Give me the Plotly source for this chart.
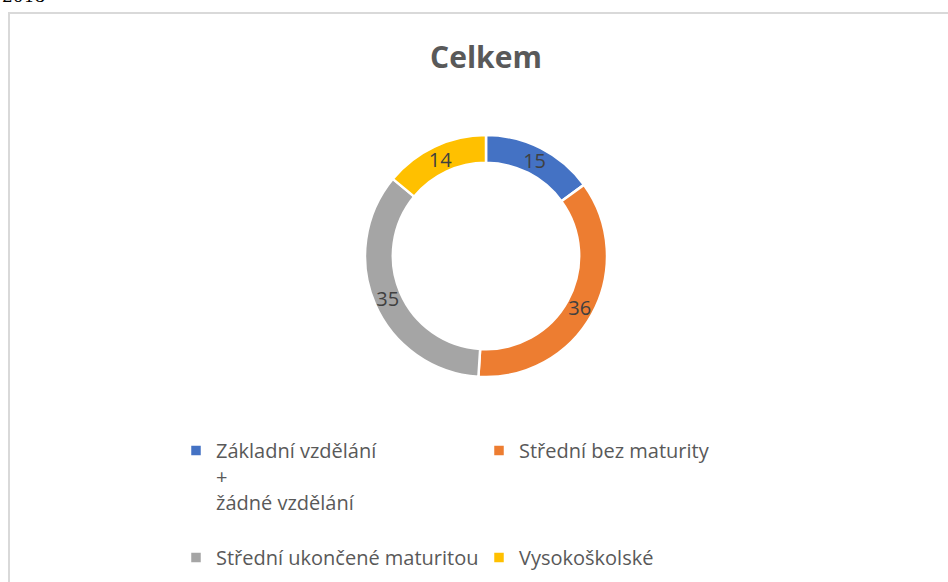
import plotly.graph_objects as go

categories = ["Základní vzdělání<br>+<br>žádné vzdělání<br>\u00a0", "Střední bez maturity",
              "Střední ukončené maturitou", "Vysokoškolské"]
values = [15, 36, 35, 14]
colors = ["#4472C4", "#ED7D31", "#A5A5A5", "#FFC000"]
title_text = "Celkem"

W, H = 948, 582
MR = 100                # right margin so the legend wraps after two entries
GW = W - MR             # plot-area width in px

def px(x):
    return x / GW

def py(y):
    return 1 - y / H

cx, cy, r = 486, 256, 121
r_lab = 130  # radius of transparent label ring

def dom(rad):
    return dict(x=[px(cx - rad), px(cx + rad)], y=[py(cy + rad), py(cy - rad)])

fig = go.Figure()
fig.add_trace(go.Pie(
    labels=categories, values=values, sort=False, direction="clockwise", rotation=0,
    hole=0.77,
    marker=dict(colors=colors, line=dict(color="white", width=2.5)),
    textinfo="none",
    domain=dom(r),
    hoverinfo="label+value",
))
# transparent ring used only to place the value labels in the middle of the ring
fig.add_trace(go.Pie(
    labels=categories, values=values, sort=False, direction="clockwise", rotation=0,
    hole=2 * 107 / r_lab - 1,
    marker=dict(colors=["rgba(0,0,0,0)"] * 4, line=dict(width=0)),
    textinfo="value", textposition="inside", insidetextorientation="horizontal",
    textfont=dict(family="Open Sans", size=20, color="#404040"),
    domain=dom(r_lab), showlegend=False, hoverinfo="skip",
))

fig.update_layout(
    width=W, height=H,
    margin=dict(l=0, r=MR, t=0, b=0),
    paper_bgcolor="white",
    font=dict(family="Open Sans", color="#595959"),
    title=dict(text="<b>" + title_text + "</b>", xref="container", x=486 / W, xanchor="center",
               yref="container", y=1 - 57 / H, yanchor="middle",
               font=dict(family="Open Sans", size=30, color="#595959")),
    showlegend=True,
    legend=dict(orientation="h", x=px(176), xanchor="left", y=py(431), yanchor="top",
                entrywidth=303 / GW, entrywidthmode="fraction", valign="top",
                font=dict(family="Open Sans", size=20, color="#595959"),
                bgcolor="rgba(0,0,0,0)", traceorder="normal"),
    shapes=[dict(type="rect", xref="paper", yref="paper",
                 x0=px(9), x1=px(W + 20), y0=-0.05, y1=py(13),
                 line=dict(color="#D9D9D9", width=2), fillcolor="rgba(0,0,0,0)",
                 layer="below")],
    annotations=[dict(text="2018", xref="paper", yref="paper", x=0, y=py(8),
                      xanchor="left", yanchor="bottom", showarrow=False,
                      font=dict(family="DejaVu Serif", size=17, color="black"))],
)

fig.write_html("out.html", config={"displayModeBar": False},
               post_script="document.body.style.margin='0px';document.body.style.overflow='hidden';")
